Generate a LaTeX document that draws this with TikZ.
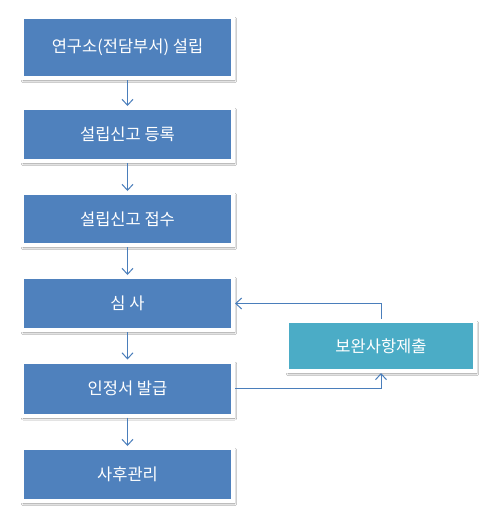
\documentclass[tikz,border=0pt]{standalone}
\usepackage{fontspec}
\setmainfont{Noto Sans CJK KR}
\usetikzlibrary{arrows.meta,shadows.blur,positioning}
\definecolor{boxblue}{HTML}{4F81BD}
\definecolor{boxteal}{HTML}{4BACC6}
\definecolor{linkblue}{HTML}{4A7EBB}
\tikzset{
  stepbox/.style={draw=white, line width=4pt, fill=boxblue, text=white,
    minimum width=211pt, inner sep=0pt, font=\fontsize{16.5}{18}\selectfont,
    blur shadow={shadow xshift=1.5pt, shadow yshift=-2.5pt, shadow blur steps=6, shadow opacity=45}},
  tealbox/.style={stepbox, fill=boxteal, minimum width=188pt},
  conn/.style={draw=linkblue, line width=1pt, -{Straight Barb[length=6pt,width=11pt]}}
}
\begin{document}
\begin{tikzpicture}[x=1pt,y=-1pt]
\useasboundingbox (0,0) rectangle (497,522);
\fill[white] (0,0) rectangle (497,522);
\node[stepbox, minimum height=61pt] (b1) at (127.5,47.5) {연구소(전담부서) 설립};
\node[stepbox, minimum height=53pt] (b2) at (127.5,134.5) {설립신고 등록};
\node[stepbox, minimum height=52pt] (b3) at (127.5,219) {설립신고 접수};
\node[stepbox, minimum height=53pt] (b4) at (127.5,303.5) {심 사};
\node[stepbox, minimum height=54pt] (b5) at (127.5,388.5) {인정서 발급};
\node[stepbox, minimum height=53pt] (b6) at (127.5,474.5) {사후관리};
\node[tealbox, minimum height=50pt] (s) at (381,346) {보완사항제출};
\draw[conn] (b1) -- (b2);
\draw[conn] (b2) -- (b3);
\draw[conn] (b3) -- (b4);
\draw[conn] (b4) -- (b5);
\draw[conn] (b5) -- (b6);
\draw[conn] (s.north) |- (b4.east);
\draw[conn] (b5.east) -| (s.south);
\end{tikzpicture}
\end{document}
